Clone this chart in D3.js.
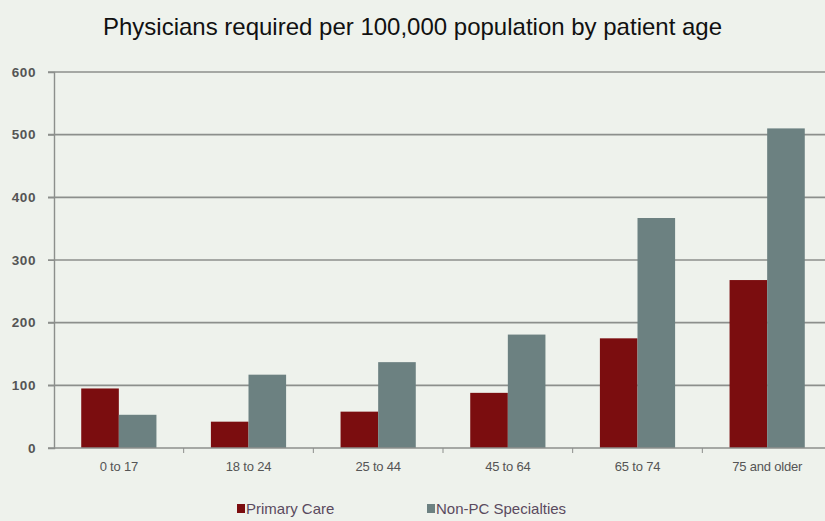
<!DOCTYPE html>
<html>
<head>
<meta charset="utf-8">
<script src="https://cdn.jsdelivr.net/npm/d3@7"></script>
<style>
  body { margin: 0; background: #eef2ec; }
  svg { display: block; }
</style>
</head>
<body>
<svg id="vis" width="825" height="521"></svg>
<script>
const categories = ["0 to 17", "18 to 24", "25 to 44", "45 to 64", "65 to 74", "75 and older"];
const primary_care = [95, 42, 58, 88, 175, 268];
const non_pc = [53, 117, 137, 181, 367, 510];
const series_names = ["Primary Care", "Non-PC Specialties"];
const y_ticks = [0, 100, 200, 300, 400, 500, 600];

const colors = ["#7b0d0f", "#6c8181"];
const W = 825, H = 521;
const m = {left: 54, right: -7, top: 72, bottom: 73};
const font = "Liberation Sans, Arial, sans-serif";

const svg = d3.select("#vis");
svg.append("rect").attr("width", W).attr("height", H).attr("fill", "#eef2ec");

const x = d3.scaleBand().domain(categories)
    .range([m.left, W - m.right]).paddingInner(0.42).paddingOuter(0.21);
const xs = d3.scaleBand().domain(series_names).range([0, x.bandwidth()]);
const y = d3.scaleLinear().domain([0, 600]).range([H - m.bottom, m.top]);

// gridlines
svg.append("g").selectAll("line").data(y_ticks.filter(d => d > 0)).join("line")
    .attr("x1", m.left - 6).attr("x2", W)
    .attr("y1", d => y(d)).attr("y2", d => y(d))
    .attr("stroke", "#8c8f8c").attr("stroke-width", 1.6);

// y axis
const ya = svg.append("g").attr("transform", `translate(${m.left},0)`)
    .call(d3.axisLeft(y).tickValues(y_ticks).tickSize(6).tickPadding(12));
ya.select(".domain").attr("stroke", "#8c8f8c").attr("stroke-width", 1.4);
ya.selectAll(".tick line").attr("stroke", "#8c8f8c");
ya.selectAll("text").attr("fill", "#555").attr("font-family", font)
    .attr("font-size", 13.5).attr("font-weight", "bold").attr("letter-spacing", 0.6);

// bars
const rows = categories.map((c, i) => ({cat: c, vals: [primary_care[i], non_pc[i]]}));
svg.append("g").selectAll("g").data(rows).join("g")
    .attr("transform", d => `translate(${x(d.cat)},0)`)
    .selectAll("rect").data(d => d.vals.map((v, j) => ({v, s: series_names[j], j}))).join("rect")
    .attr("x", d => xs(d.s)).attr("width", xs.bandwidth())
    .attr("y", d => y(d.v)).attr("height", d => y(0) - y(d.v))
    .attr("fill", d => colors[d.j]);

// x axis
const xa = svg.append("g").attr("transform", `translate(0,${y(0)})`)
    .call(d3.axisBottom(x).tickSize(0).tickPadding(14));
xa.select(".domain").remove();
svg.append("line").attr("x1", m.left - 6).attr("x2", W).attr("y1", y(0)).attr("y2", y(0))
    .attr("stroke", "#8c8f8c").attr("stroke-width", 1.6);
const step = x.step();
svg.append("g").selectAll("line").data(categories.slice(1)).join("line")
    .attr("x1", d => x(d) - step * x.paddingInner() / 2).attr("x2", d => x(d) - step * x.paddingInner() / 2)
    .attr("y1", y(0)).attr("y2", y(0) + 5).attr("stroke", "#8c8f8c");
xa.selectAll("text").attr("fill", "#555").attr("font-family", font)
    .attr("font-size", 13).attr("letter-spacing", -0.2);

// title
svg.append("text").attr("x", W / 2).attr("y", 35).attr("text-anchor", "middle")
    .attr("font-family", font).attr("font-size", 24)
    .attr("fill", "#111").text("Physicians required per 100,000 population by patient age");

// legend
const legend_x = [237, 427];
const lg = svg.append("g").selectAll("g").data(series_names).join("g")
    .attr("transform", (d, i) => `translate(${legend_x[i]},509)`);
lg.append("rect").attr("x", 0).attr("y", -5).attr("width", 8).attr("height", 9)
    .attr("fill", (d, i) => colors[i]);
lg.append("text").attr("x", 9).attr("y", 5)
    .attr("font-family", font).attr("font-size", 15)
    .attr("fill", "#5a4a5e").text(d => d);
</script>
</body>
</html>
